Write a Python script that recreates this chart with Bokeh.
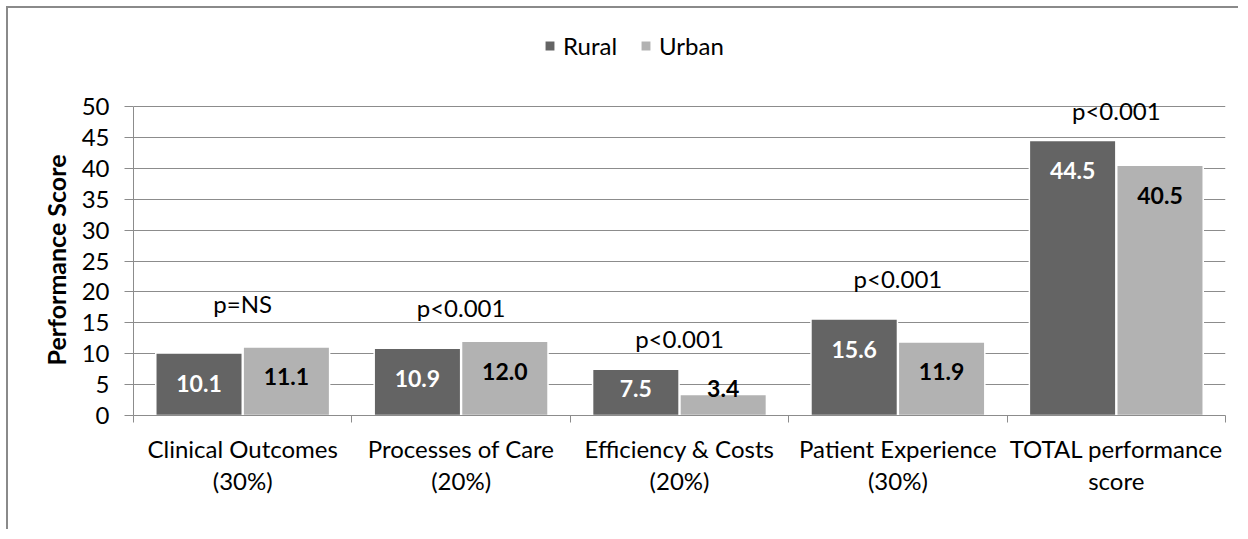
from bokeh.plotting import figure
from bokeh.models import (Range1d, FixedTicker, Legend, LegendItem, ColumnDataSource, Title)
from bokeh.transform import dodge
from bokeh.core.properties import value
from bokeh.embed import file_html
from bokeh.resources import INLINE

# ---------------- data ----------------
categories = ["Clinical Outcomes\n(30%)", "Processes of Care\n(20%)",
              "Efficiency & Costs\n(20%)", "Patient Experience\n(30%)",
              "TOTAL performance\nscore"]
rural = [10.1, 10.9, 7.5, 15.6, 44.5]
urban = [11.1, 12.0, 3.4, 11.9, 40.5]
p_values = ["p=NS", "p<0.001", "p<0.001", "p<0.001", "p<0.001"]
p_label_y = [18.1, 17.5, 12.5, 22.2, 49.4]
y_title = "Performance Score"
y_max = 50
y_step = 5

# ---------------- style ----------------
FONT = "Lato"
RURAL_C = "#646464"
URBAN_C = "#b2b2b2"
GRID_C = "#8c8c8c"
W, H = 1232, 523
LEFT, RIGHT, TOP, BOTTOM = 125, 15, 20, 116
DATA_TOP = 98                     # pixels from figure top to the y_max gridline
frame_h = H - TOP - BOTTOM
data_h = H - DATA_TOP - BOTTOM
ppu = data_h / y_max
y_top = frame_h / ppu             # headroom above y_max for the legend

n = len(categories)
centers = [i + 0.5 for i in range(n)]
bounds = list(range(n + 1))
y_ticks = list(range(0, y_max + 1, y_step))

def label_offsets(vals):
    return [min(30, v * ppu - 27) for v in vals]

src = ColumnDataSource(dict(
    c=centers, rural=rural, urban=urban,
    rural_txt=[f"{v:.1f}" for v in rural], urban_txt=[f"{v:.1f}" for v in urban],
    rural_off=label_offsets(rural), urban_off=label_offsets(urban),
    pv=p_values, pvy=p_label_y,
))

p = figure(width=W, height=H, output_backend="svg", toolbar_location=None,
           x_range=Range1d(0, n), y_range=Range1d(0, y_top),
           x_axis_location="below", y_axis_location="left",
           min_border_left=LEFT, min_border_right=RIGHT,
           min_border_top=TOP, min_border_bottom=BOTTOM)
p.outline_line_color = None
p.background_fill_color = "white"
p.border_fill_color = "white"
p.styles = {"border-top": "2px solid #8a8a8a", "border-left": "2px solid #8a8a8a",
            "margin-left": "6px", "margin-top": "6px"}

BW = 0.396
r1 = p.vbar(x=dodge("c", -0.2, range=p.x_range), top="rural", width=BW, source=src,
            fill_color=RURAL_C, line_color="white", line_width=1.5)
r2 = p.vbar(x=dodge("c", 0.2, range=p.x_range), top="urban", width=BW, source=src,
            fill_color=URBAN_C, line_color="white", line_width=1.5)

p.text(x=dodge("c", -0.2, range=p.x_range), y="rural", text="rural_txt", source=src,
       y_offset="rural_off", text_align="center", text_baseline="middle",
       text_font=value(FONT), text_font_style="bold", text_font_size="23px",
       text_color="white")
p.text(x=dodge("c", 0.2, range=p.x_range), y="urban", text="urban_txt", source=src,
       y_offset="urban_off", text_align="center", text_baseline="middle",
       text_font=value(FONT), text_font_style="bold", text_font_size="23px",
       text_color="black")
p.text(x="c", y="pvy", text="pv", source=src, text_align="center",
       text_baseline="middle", text_font=value(FONT), text_font_size="24px",
       text_color="black")

# y axis
yt = FixedTicker(ticks=y_ticks)
yax = p.yaxis[0]
yax.ticker = yt
yax.bounds = (0, y_max)
yax.axis_line_color = GRID_C
yax.major_tick_line_color = GRID_C
yax.major_tick_out = 9
yax.major_tick_in = 0
yax.minor_tick_line_color = None
yax.major_label_text_font = FONT
yax.major_label_text_font_size = "24px"
yax.major_label_text_color = "black"
yax.major_label_standoff = 15
p.ygrid.ticker = yt
p.ygrid.grid_line_color = GRID_C
p.xgrid.visible = False

# y axis title, centred on the 0..y_max span
p.add_layout(Title(text=y_title, align="left", offset=50, standoff=16,
                   text_font=FONT, text_font_style="bold", text_font_size="25px",
                   text_color="black"), "left")

# x axis: labels at category centres, tick marks at category boundaries
xax = p.xaxis[0]
xax.ticker = FixedTicker(ticks=centers, minor_ticks=bounds)
xax.major_label_overrides = {c: lab for c, lab in zip(centers, categories)}
xax.axis_line_color = GRID_C
xax.major_tick_line_color = None
xax.major_tick_out = 0
xax.major_tick_in = 0
xax.minor_tick_line_color = GRID_C
xax.minor_tick_out = 7
xax.minor_tick_in = 0
xax.major_label_text_font = FONT
xax.major_label_text_font_size = "24px"
xax.major_label_text_color = "black"
xax.major_label_standoff = 11
xax.major_label_text_line_height = 1.12

legend = Legend(items=[LegendItem(label="Rural", renderers=[r1]),
                       LegendItem(label="Urban", renderers=[r2])],
                orientation="horizontal", location=(410, 355),
                glyph_width=13, glyph_height=13, label_standoff=7, spacing=22,
                padding=0, margin=0, border_line_color=None, background_fill_alpha=0,
                label_text_font=FONT, label_text_font_size="24px",
                label_text_color="black")
p.add_layout(legend)

open("out.html", "w").write(file_html(p, INLINE))
